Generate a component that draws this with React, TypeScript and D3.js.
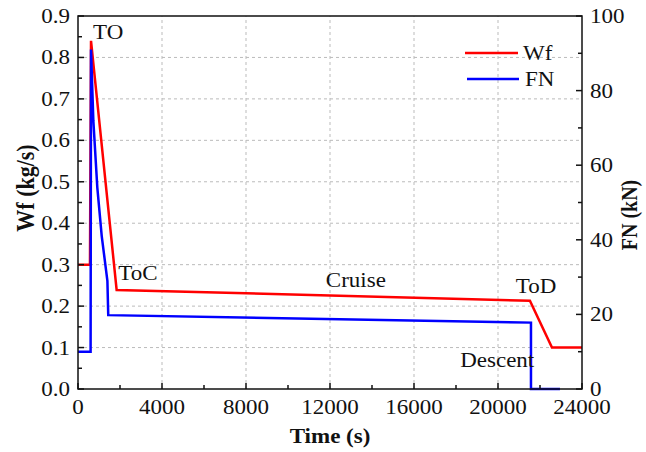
import React from 'react';
import * as d3 from 'd3';

// fuel flow Wf (kg/s) over the mission
const wfTime = [0, 570, 620, 1840, 21520, 22570, 24000];
const wfValue = [0.3, 0.3, 0.84, 0.239, 0.213, 0.1, 0.1];

// net thrust FN (kN)
const fnTime = [0, 600, 620, 730, 920, 1130, 1400, 1440, 21570, 21570, 22950];
const fnValue = [10, 10, 91, 72, 54, 41, 29, 19.8, 17.8, 0, 0];

const xTicks = [0, 4000, 8000, 12000, 16000, 20000, 24000];
const leftTicks = [0, 0.1, 0.2, 0.3, 0.4, 0.5, 0.6, 0.7, 0.8, 0.9];
const rightTicks = [0, 20, 40, 60, 80, 100];

const phaseLabels = [
  { name: 'TO', t: 720, v: 0.845 },
  { name: 'ToC', t: 1920, v: 0.262 },
  { name: 'Cruise', t: 11800, v: 0.247 },
  { name: 'ToD', t: 20850, v: 0.232 },
  { name: 'Descent', t: 18200, v: 0.053 },
];

const W = 646, H = 452;
const m = { left: 78, right: 64, top: 16, bottom: 63 };
const SX = 1.15;
const FONT = '"Liberation Serif", "Times New Roman", serif';

function T(props: any) {
  const { x, y, anchor = 'start', size = 20, bold = false, rot = 0, children } = props;
  return (
    <text
      transform={`translate(${x},${y}) scale(${SX},1) rotate(${rot})`}
      textAnchor={anchor}
      fontFamily={FONT}
      fontSize={size}
      fontWeight={bold ? 'bold' : 'normal'}
      fill="#111"
    >
      {children}
    </text>
  );
}

export default function App() {
  const x = d3.scaleLinear().domain([0, 24000]).range([m.left, W - m.right]);
  const yL = d3.scaleLinear().domain([0, 0.9]).range([H - m.bottom, m.top]);
  const yR = d3.scaleLinear().domain([0, 100]).range([H - m.bottom, m.top]);

  const wfLine = d3.line<number>().x((_, i) => x(wfTime[i])).y(d => yL(d));
  const fnLine = d3.line<number>().x((_, i) => x(fnTime[i])).y(d => yR(d));

  const x0 = m.left, x1 = W - m.right, y0 = H - m.bottom, y1 = m.top;
  const tick = 6, minor = 4;

  const xMinor = d3.range(2000, 24000, 4000);
  const lMinor = d3.range(0.05, 0.9, 0.1);
  const rMinor = d3.range(10, 100, 20);

  return (
    <svg width={W} height={H} style={{ position: 'absolute', left: 0, top: 0, background: '#fff' }}>
      {/* grid */}
      <g stroke="#bbb" strokeWidth={1} strokeDasharray="3,3">
        {xTicks.slice(1, -1).map(t => (
          <line key={'gx' + t} x1={x(t)} x2={x(t)} y1={y0} y2={y1} />
        ))}
        {leftTicks.slice(1, -1).map(t => (
          <line key={'gy' + t} x1={x0} x2={x1} y1={yL(t)} y2={yL(t)} />
        ))}
      </g>

      {/* data */}
      <path d={wfLine(wfValue) || ''} fill="none" stroke="#ff0000" strokeWidth={2.5} strokeLinejoin="miter" />
      <path d={fnLine(fnValue) || ''} fill="none" stroke="#0000ff" strokeWidth={2.5} strokeLinejoin="miter" />

      {/* frame and ticks */}
      <g stroke="#111" strokeWidth={1.5} fill="none">
        <rect x={x0} y={y1} width={x1 - x0} height={y0 - y1} />
        {xTicks.map(t => <line key={'xt' + t} x1={x(t)} x2={x(t)} y1={y0} y2={y0 - tick} />)}
        {xMinor.map(t => <line key={'xm' + t} x1={x(t)} x2={x(t)} y1={y0} y2={y0 - minor} />)}
        {leftTicks.map(t => <line key={'lt' + t} x1={x0} x2={x0 + tick} y1={yL(t)} y2={yL(t)} />)}
        {lMinor.map(t => <line key={'lm' + t} x1={x0} x2={x0 + minor} y1={yL(t)} y2={yL(t)} />)}
        {rightTicks.map(t => <line key={'rt' + t} x1={x1} x2={x1 - tick} y1={yR(t)} y2={yR(t)} />)}
        {rMinor.map(t => <line key={'rm' + t} x1={x1} x2={x1 - minor} y1={yR(t)} y2={yR(t)} />)}
      </g>

      {/* tick labels */}
      {xTicks.map(t => (
        <T key={'xl' + t} x={x(t)} y={y0 + 25} anchor="middle">{String(t)}</T>
      ))}
      {leftTicks.map(t => (
        <T key={'ll' + t} x={x0 - 8} y={yL(t) + 7} anchor="end">{t.toFixed(1)}</T>
      ))}
      {rightTicks.map(t => (
        <T key={'rl' + t} x={x1 + 8} y={yR(t) + 7}>{String(t)}</T>
      ))}

      {/* axis titles */}
      <T x={(x0 + x1) / 2} y={H - 9} anchor="middle" bold>Time (s)</T>
      <T x={34} y={188} anchor="middle" size={22} bold rot={-90}>Wf (kg/s)</T>
      <T x={637} y={215} anchor="middle" bold rot={-90}>FN (kN)</T>

      {/* phase labels */}
      {phaseLabels.map(p => (
        <T key={p.name} x={x(p.t)} y={yL(p.v)}>{p.name}</T>
      ))}

      {/* legend */}
      <line x1={465} x2={518} y1={53} y2={53} stroke="#ff0000" strokeWidth={2.5} />
      <T x={523} y={60}>Wf</T>
      <line x1={467} x2={519} y1={79} y2={79} stroke="#0000ff" strokeWidth={2.5} />
      <T x={525} y={86}>FN</T>
    </svg>
  );
}
